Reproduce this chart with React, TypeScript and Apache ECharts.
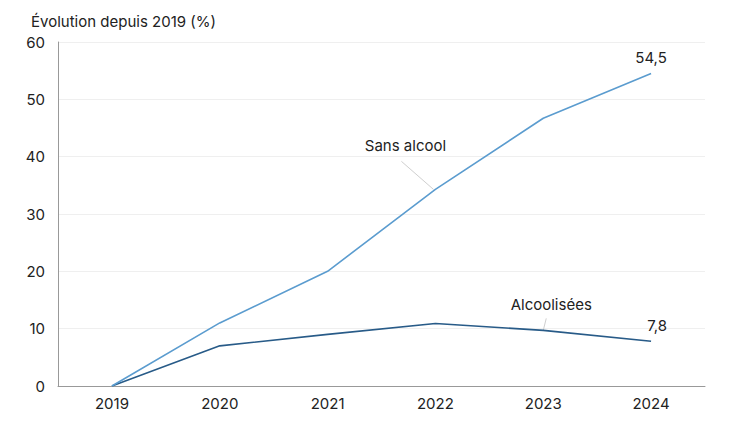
import { useEffect, useRef } from 'react';
import * as echarts from 'echarts';

const years = ['2019', '2020', '2021', '2022', '2023', '2024'];
const sansAlcool = [0, 11.0, 20.0, 34.3, 46.7, 54.5];
const alcoolisees = [0, 7.0, 9.0, 10.9, 9.7, 7.8];
const yTicks = [0, 10, 20, 30, 40, 50, 60];

const FONT = 'Inter, "Noto Sans", sans-serif';
const TEXT = '#222';
const LIGHT = '#5b9ccf';
const DARK = '#285b88';

const fmt = (v: number) => v.toFixed(1).replace('.', ',');

export default function App() {
  const chartRef = useRef<HTMLDivElement>(null);

  useEffect(() => {
    document.body.style.margin = '0';
    if (!chartRef.current) return;
    const chart = echarts.init(chartRef.current, undefined, { renderer: 'svg' });

    const last = years.length - 1;

    const option: echarts.EChartsOption = {
      animation: false,
      textStyle: { fontFamily: FONT },
      title: {
        text: 'Évolution depuis 2019 (%)',
        left: 26,
        top: 9,
        textStyle: { fontFamily: FONT, fontSize: 15, fontWeight: 'normal', color: TEXT },
      },
      grid: { left: 58, right: 45, top: 42, bottom: 36 },
      xAxis: {
        type: 'category',
        data: years,
        boundaryGap: true,
        axisLine: { lineStyle: { color: '#999', width: 1 } },
        axisTick: { show: false },
        axisLabel: { color: TEXT, fontSize: 15, margin: 10, fontFamily: FONT },
      },
      yAxis: {
        type: 'value',
        min: yTicks[0],
        max: yTicks[yTicks.length - 1],
        interval: 10,
        axisLine: { show: true, lineStyle: { color: '#999', width: 1 } },
        axisTick: { show: false },
        axisLabel: { color: TEXT, fontSize: 15, margin: 13, fontFamily: FONT },
        splitLine: { lineStyle: { color: '#efefef', width: 1 } },
      },
      series: [
        {
          name: 'Sans alcool',
          type: 'line',
          data: sansAlcool.map((v, i) => ({
            value: v,
            label:
              i === last
                ? { show: true, position: 'top', distance: 8, formatter: () => fmt(v) }
                : i === 3
                ? { show: true, position: 'inside', formatter: 'Sans alcool' }
                : { show: false },
          })),
          symbol: 'circle',
          symbolSize: 0.1,
          showSymbol: true,
          lineStyle: { color: LIGHT, width: 1.6 },
          itemStyle: { color: LIGHT },
          label: { color: TEXT, fontSize: 15, fontFamily: FONT },
          labelLayout: (p: any) => (p.dataIndex === 3 ? { dx: -30, dy: -44 } : {}),
          emphasis: { disabled: true },
          z: 3,
        },
        {
          name: 'Alcoolisées',
          type: 'line',
          data: alcoolisees.map((v, i) => ({
            value: v,
            label:
              i === last
                ? { show: true, position: 'top', distance: 8, formatter: () => fmt(v) }
                : i === 4
                ? { show: true, position: 'inside', formatter: 'Alcoolisées' }
                : { show: false },
          })),
          symbol: 'circle',
          symbolSize: 0.1,
          showSymbol: true,
          lineStyle: { color: DARK, width: 1.6 },
          itemStyle: { color: DARK },
          label: { color: TEXT, fontSize: 15, fontFamily: FONT },
          labelLayout: (p: any) =>
            p.dataIndex === 4 ? { dx: 8, dy: -26 } : p.dataIndex === last ? { dx: 6 } : {},
          emphasis: { disabled: true },
          z: 2,
        },
      ],
    };

    chart.setOption(option);

    // leader lines from the labels to their points, placed from the data
    const pSans = chart.convertToPixel({ seriesIndex: 0 }, [3, sansAlcool[3]]) as number[];
    const pAlc = chart.convertToPixel({ seriesIndex: 1 }, [4, alcoolisees[4]]) as number[];
    chart.setOption({
      graphic: [
        {
          type: 'line',
          shape: { x1: pSans[0] - 34, y1: pSans[1] - 28, x2: pSans[0] - 2, y2: pSans[1] },
          style: { stroke: '#cfcfcf', lineWidth: 1 },
          z: 1,
        },
        {
          type: 'line',
          shape: { x1: pAlc[0] + 3, y1: pAlc[1] - 12, x2: pAlc[0], y2: pAlc[1] },
          style: { stroke: '#cfcfcf', lineWidth: 1 },
          z: 1,
        },
      ],
    });

    return () => chart.dispose();
  }, []);

  return <div ref={chartRef} style={{ width: 750, height: 422 }} />;
}
